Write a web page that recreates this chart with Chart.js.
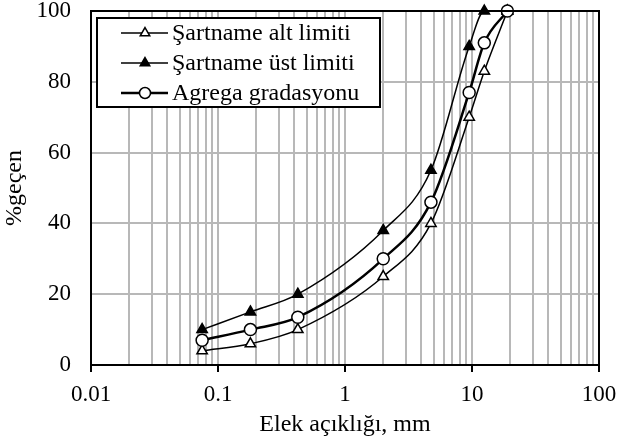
<!DOCTYPE html>
<html>
<head>
<meta charset="utf-8">
<script src="https://cdn.jsdelivr.net/npm/chart.js@4.4.0/dist/chart.umd.min.js"></script>
<style>
  body { margin: 0; background: #fff; }
  #wrap { width: 619px; height: 439px; }
</style>
</head>
<body>
<div id="wrap"><canvas id="myChart"></canvas></div>
<script>
// Elek analizi - gradasyon egrisi
const sieveSizes = [0.075, 0.18, 0.425, 2, 4.75, 9.5, 12.5, 19];
const altLimit = [4, 6, 10, 25, 40, 70, 83, 100];
const ustLimit = [10, 15, 20, 38, 55, 90, 100, 100];
const agrega = [7, 10, 13.5, 30, 46, 77, 91, 100];
const seriesNames = ["Şartname alt limiti", "Şartname üst limiti", "Agrega gradasyonu"];
const xDecades = [0.01, 0.1, 1, 10, 100];
const yTicks = [0, 20, 40, 60, 80, 100];

const FONT = "'Liberation Serif', 'Times New Roman', serif";
const gridGray = "#b8b8b8";

function toPoints(vals) {
  return vals.map((v, i) => ({ x: sieveSizes[i], y: v }));
}

function isDecade(v) {
  const l = Math.log10(v);
  return Math.abs(l - Math.round(l)) < 1e-9;
}

// kutu ve legend
const framePlugin = {
  id: "frame",
  afterDraw(chart) {
    const { ctx, chartArea: a } = chart;
    ctx.save();
    ctx.strokeStyle = "#000";
    ctx.lineWidth = 2;
    ctx.beginPath();
    ctx.moveTo(a.left, a.top);
    ctx.lineTo(a.right, a.top);
    ctx.lineTo(a.right, a.bottom);
    ctx.stroke();

    // legend
    const bx = a.left + 6, by = a.top + 7, bw = 283, bh = 89;
    ctx.fillStyle = "#fff";
    ctx.fillRect(bx, by, bw, bh);
    ctx.lineWidth = 2;
    ctx.strokeRect(bx, by, bw, bh);
    ctx.font = "24px " + FONT;
    ctx.textBaseline = "middle";
    chart.data.datasets.forEach((ds, i) => {
      const y = by + 15 + i * 30;
      ctx.strokeStyle = "#000";
      ctx.lineWidth = ds.borderWidth;
      ctx.beginPath();
      ctx.moveTo(bx + 24, y);
      ctx.lineTo(bx + 71, y);
      ctx.stroke();
      ctx.fillStyle = ds.pointBackgroundColor;
      ctx.strokeStyle = "#000";
      ctx.lineWidth = ds.pointBorderWidth;
      Chart.helpers.drawPoint(ctx, {
        pointStyle: ds.pointStyle,
        radius: ds.pointRadius - 0.5,
        borderWidth: ds.pointBorderWidth,
        rotation: 0
      }, bx + 48, y);
      ctx.fillStyle = "#000";
      ctx.fillText(ds.label, bx + 75, y + 1);
    });
    ctx.restore();
  }
};

const myChart = new Chart(document.querySelector("#myChart"), {
  type: "line",
  data: {
    datasets: [
      {
        label: seriesNames[0],
        data: toPoints(altLimit),
        borderColor: "#000",
        borderWidth: 1.5,
        pointStyle: "triangle",
        pointRadius: 6,
        pointBorderWidth: 1.5,
        pointBackgroundColor: "#fff",
        pointBorderColor: "#000",
        cubicInterpolationMode: "monotone",
        order: 3
      },
      {
        label: seriesNames[1],
        data: toPoints(ustLimit),
        borderColor: "#000",
        borderWidth: 1.5,
        pointStyle: "triangle",
        pointRadius: 6,
        pointBorderWidth: 1.5,
        pointBackgroundColor: "#000",
        pointBorderColor: "#000",
        cubicInterpolationMode: "monotone",
        order: 2
      },
      {
        label: seriesNames[2],
        data: toPoints(agrega),
        borderColor: "#000",
        borderWidth: 2.5,
        pointStyle: "circle",
        pointRadius: 6,
        pointBorderWidth: 1.5,
        pointBackgroundColor: "#fff",
        pointBorderColor: "#000",
        cubicInterpolationMode: "monotone",
        order: 1
      }
    ]
  },
  options: {
    responsive: true,
    maintainAspectRatio: false,
    animation: false,
    clip: false,
    layout: { padding: { left: 0, top: 11, right: 20, bottom: 0 } },
    plugins: {
      legend: { display: false },
      tooltip: { enabled: false }
    },
    scales: {
      x: {
        type: "logarithmic",
        min: 0.01,
        max: 100,
        afterBuildTicks(scale) {
          const t = [];
          for (let d = 0; d < xDecades.length - 1; d++) {
            for (let k = 1; k < 10; k++) t.push({ value: xDecades[d] * k });
          }
          t.push({ value: xDecades[xDecades.length - 1] });
          scale.ticks = t;
        },
        afterFit(scale) {
          scale.height = 74;
          scale.paddingLeft = 0;
          scale.paddingRight = 0;
        },
        ticks: {
          autoSkip: false,
          maxRotation: 0,
          padding: 9,
          color: "#000",
          font: { family: FONT, size: 23 },
          callback(value) {
            if (!isDecade(value)) return "";
            return xDecades.find((d) => Math.abs(d - value) < d * 1e-6).toString();
          }
        },
        grid: {
          color: gridGray,
          lineWidth: 2,
          tickLength: 7,
          tickWidth: 2,
          tickColor: (c) => (c.tick && isDecade(c.tick.value) ? "#000" : "rgba(0,0,0,0)")
        },
        border: { color: "#000", width: 2 },
        title: {
          display: true,
          text: "Elek açıklığı, mm",
          color: "#000",
          font: { family: FONT, size: 24 },
          padding: { top: 0, bottom: 0 }
        }
      },
      y: {
        min: 0,
        max: 100,
        afterBuildTicks(scale) {
          scale.ticks = yTicks.map((v) => ({ value: v }));
        },
        afterFit(scale) {
          scale.width = 91;
          scale.paddingTop = 0;
          scale.paddingBottom = 0;
        },
        ticks: {
          padding: 20,
          color: "#000",
          font: { family: FONT, size: 23 }
        },
        grid: {
          color: gridGray,
          lineWidth: 2,
          drawTicks: false
        },
        border: { color: "#000", width: 2 },
        title: {
          display: true,
          text: "%geçen",
          color: "#000",
          font: { family: FONT, size: 24 },
          padding: { top: 0, bottom: 4 }
        }
      }
    }
  },
  plugins: [framePlugin]
});
</script>
</body>
</html>
